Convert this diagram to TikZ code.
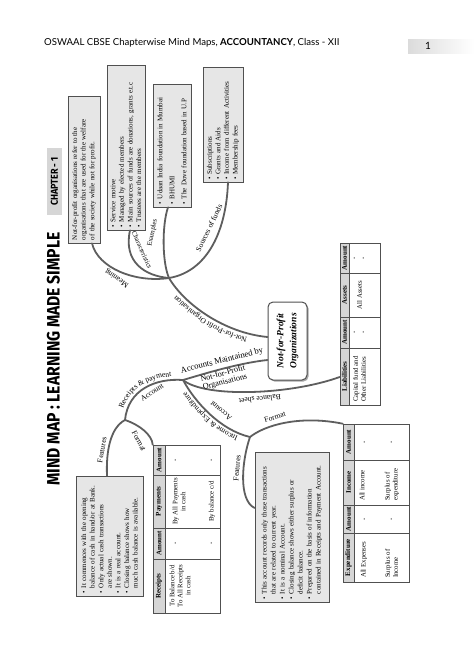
\documentclass[tikz,border=0pt]{standalone}
\usepackage{fontspec}
\setmainfont{Liberation Serif}
\newfontfamily\hdfont{Lato}
\newfontfamily\ttlfont{Fira Sans}
\usetikzlibrary{decorations.text}
\definecolor{boxc}{HTML}{E6E6E6}
\definecolor{bordc}{HTML}{505050}
\definecolor{curvec}{HTML}{5E5E5E}
\definecolor{hdrc}{HTML}{D6D6D6}
\newcommand\bxf{\fontsize{7}{8.6}\selectfont}
\newcommand\lbl{\fontsize{7.6}{8.5}\selectfont}
\newcommand\tbf{\fontsize{6.8}{8}\selectfont}
\newcommand\bi{\makebox[5pt][l]{\textbullet}}
\newcommand\ci{\hspace*{5pt}}
\begin{document}
\begin{tikzpicture}[x=1pt,y=-1pt,
 infobox/.style={rotate=90, draw=bordc, fill=boxc, line width=0.7pt, inner xsep=3pt, inner ysep=1pt, align=left, font=\bxf},
 curve/.style={draw=curvec, line width=1.8pt, line cap=round},
 lab/.style={font=\lbl, inner sep=0pt},
 tbl/.style={rotate=90, draw=bordc, line width=0.6pt, inner sep=0pt},
 grid/.style={draw=bordc, line width=0.6pt},
 th/.style={rotate=90, font=\fontsize{7}{8}\selectfont\bfseries, inner sep=0pt},
 td/.style={rotate=90, font=\tbf, inner sep=0pt, align=center},
]
\fill[white] (0,0) rectangle (474,651);
\useasboundingbox (0,0) rectangle (474,651);

% header
\node[font=\hdfont\fontsize{9.6}{11}\selectfont, anchor=west, inner sep=0pt] (hdr) at (44,43) {OSWAAL CBSE Chapterwise Mind Maps, \textbf{ACCOUNTANCY}, Class - XII};
\node[left color=gray!28, right color=white, minimum width=66pt, minimum height=14pt, inner sep=0pt] (pgbox) at (441,46) {};
\node[font=\hdfont\fontsize{10}{12}\selectfont, inner sep=0pt] (pgnum) at (428,46) {1};

% title
\node[rotate=90, inner sep=0pt, font=\ttlfont\bfseries\fontsize{18}{20}\selectfont] (title) at (53.5,359) {\scalebox{0.87}[1]{MIND MAP : LEARNING MADE SIMPLE}};
\node[rotate=90, fill=hdrc, minimum width=67pt, minimum height=15pt, inner sep=0pt, font=\ttlfont\bfseries\fontsize{10}{12}\selectfont] (chap) at (54.5,181.5) {\scalebox{0.9}[1]{CHAPTER - 1}};

% info boxes
\node[infobox, minimum width=147pt, minimum height=32pt, text width=141pt] (b1) at (84,169.5) {Not-for-profit organisations refer to the\\organisations that are used for the welfare\\of the society while not for profit.};
\node[infobox, minimum width=165pt, minimum height=38pt, text width=159pt] (b2) at (126,147.5) {\bi Service motive\\\bi Managed by elected members\\\bi Main sources of funds are donations, grants e.t.c\\\bi Trustees are the members};
\node[infobox, minimum width=123pt, minimum height=38pt, text width=117pt, font=\fontsize{7}{12}\selectfont] (b3) at (172,145.5) {\bi Udaan India foundation in Mumbai\\\bi BHUMI\\\bi The Dove foundation based in U.P};
\node[infobox, minimum width=115pt, minimum height=40pt, text width=110pt, inner xsep=2.5pt] (b4) at (223,124.5) {\bi Subscriptions\\\bi Grants and Aids\\\bi Income from different Activities\\\bi Membership fees};
\node[infobox, minimum width=120pt, minimum height=67pt, text width=114pt] (b5) at (109.5,536) {\bi It commences with the opening\\\ci balance of cash in hand/or at Bank.\\\bi Only actual cash transactions\\\ci are shown.\\\bi It is a real account.\\\bi Closing balance shows how\\\ci much cash balance is available.};
\node[infobox, minimum width=150pt, minimum height=74pt, text width=144pt, font=\fontsize{7}{9}\selectfont] (b6) at (292,527) {\bi This account records only those transactions\\\ci that are related to current year.\\\bi It is a nominal Account.\\\bi Closing balance shows either surplus or\\\ci deficit balance.\\\bi Prepared on the basis of information\\\ci contained in Receipts and Payment Account.};

% central node
\node[rotate=90, fill=gray!70, rounded corners=5pt, minimum width=78pt, minimum height=39pt] (cnsh) at (289,342.5) {};
\node[rotate=90, draw=bordc, fill=white, line width=1pt, rounded corners=5pt, minimum width=78pt, minimum height=39pt, align=center, font=\fontsize{9.5}{13}\selectfont\bfseries\itshape] (cn) at (287.5,341) {Not-for-Profit\\Organizations};

% Balance sheet table
\fill[hdrc] (340,243) rectangle (349,405);
\node[tbl, minimum width=162pt, minimum height=40pt] (bs) at (360,324) {};
\draw[grid] (349,243) -- (349,405) (340,273) -- (380,273) (340,317) -- (380,317) (340,348) -- (380,348);
\node[th] (bsh1) at (344.5,376.5) {Liabilities};
\node[th] (bsh2) at (344.5,332.5) {Amount};
\node[th] (bsh3) at (344.5,295) {Assets};
\node[th] (bsh4) at (344.5,258) {Amount};
\node[td, anchor=west, align=left] (bsd1) at (359.5,402) {Capital fund and\\Other Liabilities};
\node[td] (bsd2) at (355,332.5) {-};
\node[td] (bsd3) at (364,332.5) {-};
\node[td] (bsd4) at (359.5,295) {All Assets};
\node[td] (bsd5) at (355,258) {-};
\node[td] (bsd6) at (364,258) {-};

% Receipts and payment table
\fill[hdrc] (153,445) rectangle (165,613);
\node[tbl, minimum width=168pt, minimum height=67pt] (rp) at (186.5,529) {};
\draw[grid] (165,445) -- (165,613) (153,475) -- (220,475) (153,528) -- (220,528) (153,559) -- (220,559);
\node[th] (rph1) at (159,586) {Receipts};
\node[th] (rph2) at (159,543.5) {Amount};
\node[th] (rph3) at (159,501.5) {Payments};
\node[th] (rph4) at (159,460) {Amount};
\node[td] (rpd1) at (180,586) {To Balance b/d\\To All Receipts\\in cash};
\node[td] (rpd2) at (176,543.5) {-};
\node[td] (rpd3) at (212,543.5) {-};
\node[td] (rpd4) at (179,501.5) {By All Payments\\in cash};
\node[td] (rpd5) at (212,501.5) {By balance c/d};
\node[td] (rpd6) at (176,460) {-};
\node[td] (rpd7) at (212,460) {-};

% Income and expenditure table
\fill[hdrc] (343,424) rectangle (354,582);
\node[tbl, minimum width=158pt, minimum height=66pt] (ie) at (376,503) {};
\draw[grid] (354,424) -- (354,582) (343,460) -- (409,460) (343,505) -- (409,505) (343,533) -- (409,533);
\node[th] (ieh1) at (348.5,557.5) {Expenditure};
\node[th] (ieh2) at (348.5,519) {Amount};
\node[th] (ieh3) at (348.5,482.5) {Income};
\node[th] (ieh4) at (348.5,442) {Amount};
\node[td, anchor=west, align=left] (ied1) at (364,578) {All Expenses};
\node[td, anchor=west, align=left] (ied2) at (391.5,578) {Surplus of\\Income};
\node[td] (ied3) at (365,519) {-};
\node[td] (ied4) at (392,519) {-};
\node[td, anchor=west, align=left] (ied5) at (362,501) {All income};
\node[td, anchor=west, align=left] (ied6) at (392,501) {Surplus of\\expenditure};
\node[td] (ied7) at (365,442) {-};
\node[td] (ied8) at (392,442) {-};

% hubs
\coordinate (h1) at (169,278);
\coordinate (h2) at (183,380);
\coordinate (h3) at (250,437);
\coordinate (h4) at (125,420);

% connectors
\draw[curve] (h1) .. controls (135,283) and (98,268) .. ([xshift=8pt]b1.west);
\draw[curve] (h1) .. controls (145,276) and (123,262) .. ([xshift=4pt]b2.west);
\draw[curve] (h1) .. controls (162,262) and (162,225) .. ([xshift=-4pt]b3.west);
\draw[curve] (h1) .. controls (205,272) and (226,235) .. ([xshift=5pt]b4.west);
\draw[curve] (h1) .. controls (185,305) and (225,333) .. ([yshift=4pt]cn.north);
\draw[curve] (h2) .. controls (210,372) and (240,363) .. ([yshift=-19pt]cn.north);
\draw[curve] (h2) .. controls (205,398) and (290,395) .. ([yshift=-53pt]bs.north);
\draw[curve] (h2) .. controls (155,378) and (128,390) .. (h4);
\draw[curve] (h2) .. controls (195,402) and (220,430) .. (h3);
\draw[curve] (h3) .. controls (265,425) and (300,415) .. (ie.north east);
\draw[curve] (h3) .. controls (242,460) and (238,500) .. ([yshift=19pt]b6.north);
\draw[curve] (h4) .. controls (110,428) and (106,452) .. ([xshift=-2.5pt]b5.east);
\draw[curve] (h4) .. controls (140,425) and (152,435) .. (rp.north east);

% labels
\node[lab, rotate=145] (lmean) at (117,278) {Meaning};
\node[lab, font=\fontsize{6.8}{8}\selectfont, rotate=-66] (lchar) at (142,250) {Characteristics};
\node[lab, font=\fontsize{7}{8}\selectfont, rotate=78] (lex) at (152.5,233) {Examples};
\node[lab, rotate=64] (lsrc) at (209,228) {Sources of funds};
\path[decorate, decoration={text along path, text={|\lbl|Not-for-Profit Organisation}, text align=center}] (265,341) .. controls (223,337) and (182,308) .. (166,281);
\node[lab, font=\fontsize{8.6}{9}\selectfont, rotate=14] (lacc) at (222,361) {Accounts Maintained by};
\node[lab, align=center, font=\fontsize{8.2}{8.6}\selectfont, rotate=15] (lnfp) at (224,378) {Not-for-Profit\\Organisations};
\node[lab, rotate=186] (lbs) at (260,399) {Balance sheet};
\path[decorate, decoration={text along path, text={|\lbl|Receipts {\&} payment}, text align=center}] (121,419) .. controls (124,388) and (153,374.5) .. (182,376.5);
\node[lab, rotate=33] (lrpa) at (152,392) {Account};
\path[decorate, decoration={text along path, text={|\lbl|Income {\&} Expenditure}, text align=center}] (249,440) .. controls (218,433) and (192,404) .. (180,382);
\node[lab, rotate=140] (liea) at (221,411) {Account};
\node[lab, rotate=-62] (lrpf) at (139,441) {Format};
\node[lab, rotate=80] (lrpfe) at (102,450) {Features};
\node[lab, rotate=17] (lief) at (275,417) {Format};
\node[lab, rotate=85] (liefe) at (237,468) {Features};
\end{tikzpicture}
\end{document}
